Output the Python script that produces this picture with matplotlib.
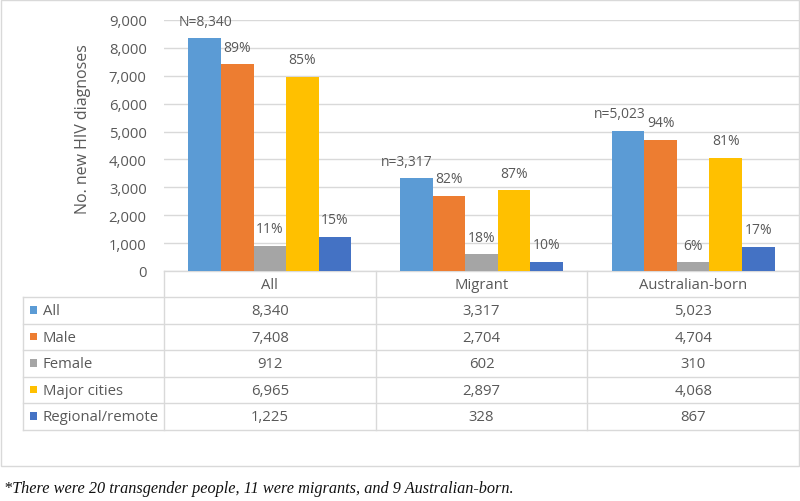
import matplotlib
matplotlib.use("Agg")
import matplotlib.pyplot as plt
from matplotlib.patches import Rectangle
from matplotlib.lines import Line2D
import numpy as np

# ---------------- data ----------------
categories = ["All", "Migrant", "Australian-born"]
series = ["All", "Male", "Female", "Major cities", "Regional/remote"]
values_all = [8340, 3317, 5023]
values_male = [7408, 2704, 4704]
values_female = [912, 602, 310]
values_cities = [6965, 2897, 4068]
values_regional = [1225, 328, 867]
n_labels = ["N=8,340", "n=3,317", "n=5,023"]
pct_male = ["89%", "82%", "94%"]
pct_female = ["11%", "18%", "6%"]
pct_cities = ["85%", "87%", "81%"]
pct_regional = ["15%", "10%", "17%"]
yticks = [0, 1000, 2000, 3000, 4000, 5000, 6000, 7000, 8000, 9000]
ylabel = "No. new HIV diagnoses"
footnote = "*There were 20 transgender people, 11 were migrants, and 9 Australian-born."

# ---------------- style ----------------
colors = ["#5B9BD5", "#ED7D31", "#A5A5A5", "#FFC000", "#4472C4"]
TXT = "#595959"
GRID = "#D9D9D9"
FONT = ["Open Sans", "DejaVu Sans"]
plt.rcParams["font.family"] = FONT

W, H = 800, 502
fig = plt.figure(figsize=(W / 100, H / 100), dpi=100)

# plot area in pixel coords
ax_l, ax_r, ax_t, ax_b = 164, 799, 21, 272
ax = fig.add_axes([ax_l / W, 1 - ax_b / H, (ax_r - ax_l) / W, (ax_b - ax_t) / H])

all_series = [values_all, values_male, values_female, values_cities, values_regional]
all_labels = [n_labels, pct_male, pct_female, pct_cities, pct_regional]
n_dx = [1, -10, -8]  # px shifts of the n= labels

nser = len(series)
bw = 1.0 / (nser + 1.5)
x = np.arange(len(categories))
for i, (vals, labs) in enumerate(zip(all_series, all_labels)):
    pos = x + (i - (nser - 1) / 2) * bw
    ax.bar(pos, vals, width=bw, color=colors[i], zorder=3, linewidth=0)
    for j, (p, v, t) in enumerate(zip(pos, vals, labs)):
        dx = n_dx[j] * 0.72 if i == 0 else 0
        ax.annotate(t, (p, v), xytext=(dx, 12.3), textcoords="offset points",
                    ha="center", va="center", fontsize=10, color=TXT, zorder=4)

ax.set_xlim(-0.5, len(categories) - 0.5)
ax.set_ylim(0, 9000)
ax.set_yticks(yticks)
ax.set_yticklabels([f"{t:,}" for t in yticks], fontsize=10.7, color=TXT)
ax.tick_params(axis="y", length=0, pad=12.5)
ax.set_xticks([])
ax.grid(axis="y", color=GRID, linewidth=1, zorder=0)
for s in ["top", "right", "left"]:
    ax.spines[s].set_visible(False)
ax.spines["bottom"].set_color(GRID)
ax.spines["bottom"].set_linewidth(1)
ax.set_facecolor("none")

# ---------------- overlay (table, border, texts) ----------------
ov = fig.add_axes([0, 0, 1, 1], zorder=-1)
ov.set_xlim(0, W)
ov.set_ylim(H, 0)
ov.axis("off")

# chart border
ov.add_patch(Rectangle((1, 1), 797.5, 466, fill=False, edgecolor=GRID, linewidth=1))

# y label
fig.text(83 / W, 1 - 129 / H, ylabel, rotation=90, ha="center", va="center",
         fontsize=11.5, color=TXT)

# data table
col_w = (ax_r - ax_l) / len(categories)
tab_l = 23
hdr_b = 298
row_h = 26.5
rows_y = [hdr_b + k * row_h for k in range(nser + 1)]
tab_b = rows_y[-1]
for yy in rows_y:
    ov.add_line(Line2D([tab_l, ax_r], [yy, yy], color=GRID, lw=1))
ov.add_line(Line2D([tab_l, tab_l], [hdr_b, tab_b], color=GRID, lw=1))
for k in range(len(categories)):
    xx = ax_l + k * col_w
    ov.add_line(Line2D([xx, xx], [ax_b, tab_b], color=GRID, lw=1))

for k, c in enumerate(categories):
    ov.text(ax_l + (k + 0.5) * col_w, (ax_b + hdr_b) / 2 + 0.5, c, ha="center",
            va="center", fontsize=10.7, color=TXT)

for i, (name, vals) in enumerate(zip(series, all_series)):
    yc = hdr_b + (i + 0.5) * row_h
    ov.add_patch(Rectangle((29.5, yc - 4), 7.5, 7.5, color=colors[i], linewidth=0))
    ov.text(43, yc + 0.5, name, ha="left", va="center", fontsize=10.7, color=TXT)
    for k, v in enumerate(vals):
        ov.text(ax_l + (k + 0.5) * col_w, yc + 0.5, f"{v:,}", ha="center",
                va="center", fontsize=10.7, color=TXT)

# footnote
fig.text(4 / W, 1 - 489 / H, footnote, ha="left", va="center", fontsize=11.7,
         family=["Liberation Serif", "DejaVu Serif"], style="italic", color="#111111")

fig.savefig("out.png", dpi=100, facecolor="white")
